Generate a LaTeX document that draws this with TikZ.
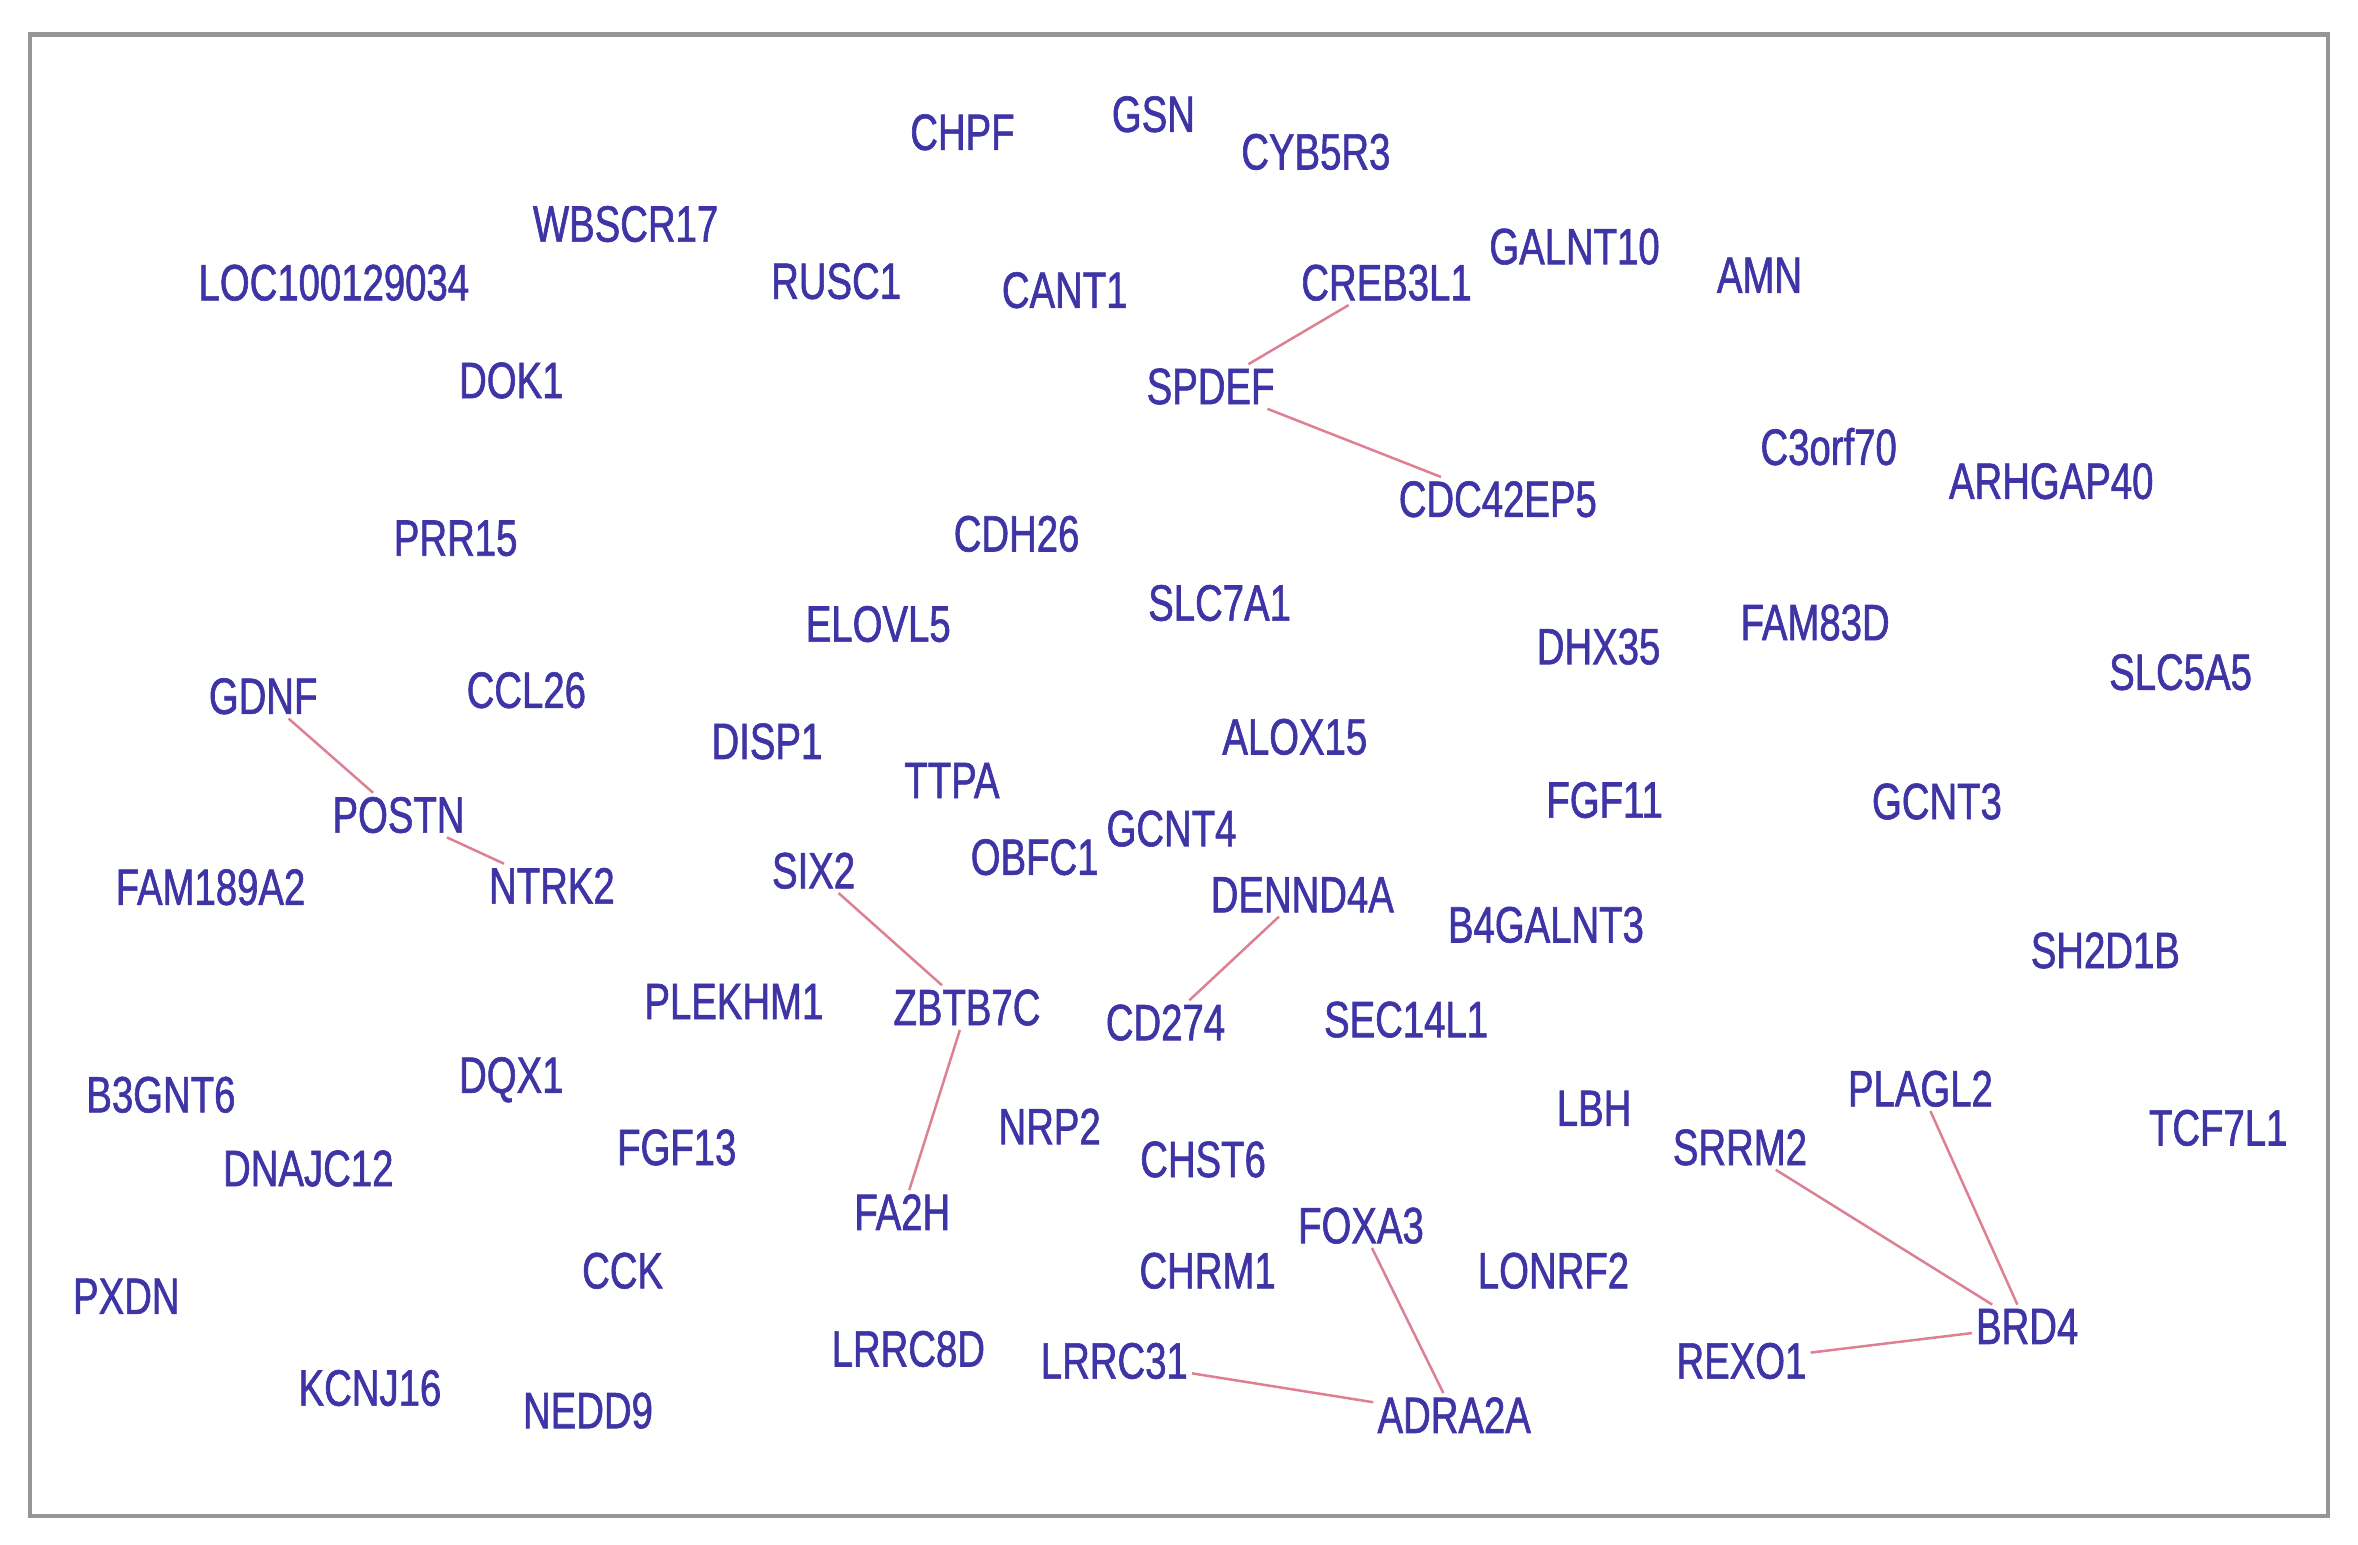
\documentclass[tikz,border=0pt]{standalone}
\usepackage{fontspec}
\setmainfont{Liberation Sans}[FakeStretch=0.75,FakeBold=1.2]
\usepackage{tikz}
\usetikzlibrary{positioning}
\definecolor{genetext}{RGB}{62,52,165}
\definecolor{geneedge}{RGB}{222,128,148}
\definecolor{framegray}{RGB}{150,150,150}

\begin{document}
\begin{tikzpicture}[x=0.15mm,y=-0.15mm,
    gene/.style={text=genetext,inner sep=1pt,font=\fontsize{14.5}{16}\selectfont},
    link/.style={draw=geneedge,line width=0.25mm}]
  \useasboundingbox (0,0) rectangle (1568,1027);
  % frame
  \draw[framegray,line width=0.45mm] (20,23) rectangle (1548,1008);
  % genes, top to bottom
  \foreach \g/\x/\y in {CHPF/640/88, GSN/767/76, CYB5R3/875/101,
      WBSCR17/416/149, LOC100129034/222/188, RUSC1/556/187, CANT1/708/193,
      CREB3L1/922/188, GALNT10/1047/164, AMN/1170/183, DOK1/340/253,
      SPDEF/805/257, C3orf70/1216/297, ARHGAP40/1364/320, CDC42EP5/996/332,
      PRR15/303/358, CDH26/676/355, ELOVL5/584/415, SLC7A1/811/401,
      DHX35/1063/430, FAM83D/1207/414, SLC5A5/1450/447} {
    \node[gene] (\g) at (\x,\y) {\g};
  }
  \foreach \g/\x/\y in {GDNF/175/463, CCL26/350/459, DISP1/510/493,
      TTPA/633/519, ALOX15/861/490, FGF11/1067/532, GCNT3/1288/533,
      POSTN/265/542, GCNT4/779/551, OBFC1/688/570, SIX2/541/579,
      NTRK2/367/589, FAM189A2/140/590, DENND4A/866/595, B4GALNT3/1028/615,
      SH2D1B/1400/632, PLEKHM1/488/666, ZBTB7C/643/670, CD274/775/680,
      SEC14L1/935/678} {
    \node[gene] (\g) at (\x,\y) {\g};
  }
  \foreach \g/\x/\y in {B3GNT6/107/728, DQX1/340/718, LBH/1060/737,
      PLAGL2/1277/724, TCF7L1/1475/750, DNAJC12/205/777, FGF13/450/763,
      NRP2/698/749, CHST6/800/771, SRRM2/1157/763, FA2H/600/806,
      FOXA3/905/815, PXDN/84/862, CCK/414/845, CHRM1/803/845,
      LONRF2/1033/845, BRD4/1348/882, LRRC8D/604/897, LRRC31/741/905,
      REXO1/1158/905, KCNJ16/246/923, NEDD9/391/938, ADRA2A/967/941} {
    \node[gene] (\g) at (\x,\y) {\g};
  }
  % interactions
  \foreach \a/\b in {CREB3L1/SPDEF, SPDEF/CDC42EP5, GDNF/POSTN, POSTN/NTRK2,
      SIX2/ZBTB7C, ZBTB7C/FA2H, DENND4A/CD274, FOXA3/ADRA2A, LRRC31/ADRA2A,
      SRRM2/BRD4, PLAGL2/BRD4, REXO1/BRD4}
    \draw[link] (\a) -- (\b);
\end{tikzpicture}
\end{document}
